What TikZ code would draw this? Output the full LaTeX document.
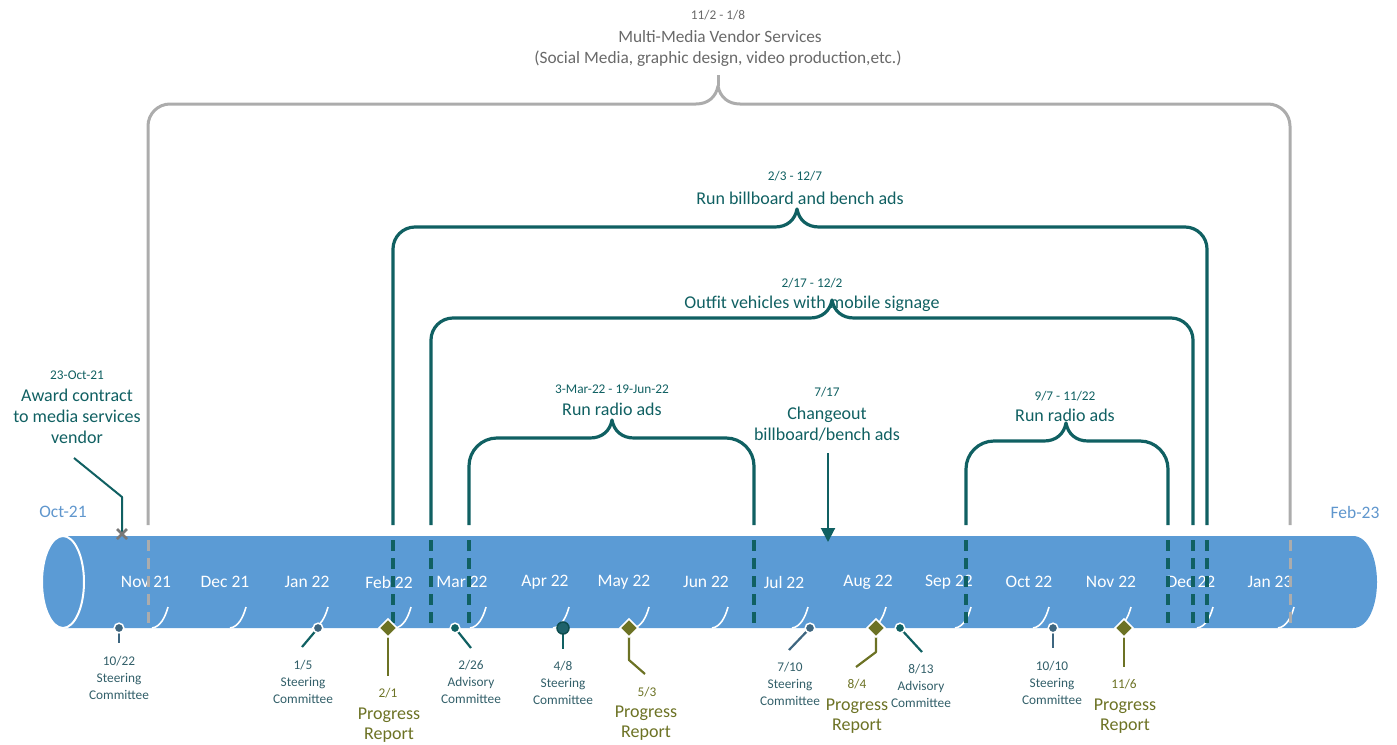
\documentclass[tikz,border=0pt]{standalone}
\usepackage{fontspec}
\setmainfont{Carlito}
\usetikzlibrary{arrows.meta,calc}
\definecolor{cyl}{RGB}{91,155,213}
\definecolor{tealc}{RGB}{16,96,98}
\definecolor{grayb}{RGB}{172,172,172}
\definecolor{grayt}{RGB}{105,105,105}
\definecolor{olivec}{RGB}{108,114,36}
\definecolor{stc}{RGB}{62,102,128}
\definecolor{evt}{RGB}{50,95,105}
\definecolor{endlab}{RGB}{95,150,205}
\newcommand\mybrace[6]{%
 \draw[#6] (#1,525) -- (#1,{#3+#5}) .. controls (#1,{#3+0.45*#5}) and ({#1+0.45*#5},#3) .. ({#1+#5},#3)
  -- ({#4-22},#3) .. controls ({#4-10},#3) and ({#4-2},{#3-7}) .. (#4,{#3-18})
  .. controls ({#4+2},{#3-7}) and ({#4+10},#3) .. ({#4+22},#3)
  -- ({#2-#5},#3) .. controls ({#2-0.45*#5},#3) and (#2,{#3+0.45*#5}) .. (#2,{#3+#5}) -- (#2,525);}
\begin{document}
\begin{tikzpicture}[x=1pt,y=-1pt,
  lab/.style={inner sep=0pt, align=center},
  date/.style={lab, font=\fontsize{13.3}{15}\selectfont},
  title/.style={lab, font=\fontsize{18}{21}\selectfont},
  month/.style={lab, text=white, font=\fontsize{17.5}{21}\selectfont},
  evlab/.style={lab, text=evt, font=\fontsize{13.3}{17}\selectfont},
  prog/.style={lab, text=olivec, font=\fontsize{18}{20.5}\selectfont},
  tealbr/.style={tealc, line width=3.2pt, line join=round},
  graybr/.style={grayb, line width=3pt, line join=round},
  tdash/.style={tealc, line width=3.5pt, dash pattern=on 11pt off 7pt},
  gdash/.style={grayb, line width=3pt, dash pattern=on 11pt off 7pt},
  stline/.style={stc, line width=2.2pt},
  adline/.style={tealc, line width=2.2pt},
  prline/.style={olivec, line width=2.2pt, line join=round}]
\useasboundingbox (0,0) rectangle (1397,744);
% ---------- brackets ----------
\mybrace{148}{1290}{104}{718}{22}{graybr}
\draw[graybr] (718,86) -- (718,75);
\mybrace{393}{1207}{227}{797}{22}{tealbr}
\mybrace{431}{1193}{318}{832}{22}{tealbr}
\mybrace{469}{754}{438}{612}{28}{tealbr}
\mybrace{966}{1168}{441}{1066}{28}{tealbr}
% bracket texts
\node[date, text=grayt] (mmd) at (718,15) {11/2 - 1/8};
\node[lab, text=grayt, font=\fontsize{17.3}{21}\selectfont] (mmt) at (720,37) {Multi-Media Vendor Services};
\node[lab, text=grayt, font=\fontsize{17.3}{21}\selectfont] (mms) at (718,59) {(Social Media, graphic design, video production,etc.)};
\node[date, text=tealc] (bbd) at (795,176) {2/3 - 12/7};
\node[title, text=tealc] (bbt) at (800,198) {Run billboard and bench ads};
\node[date, text=tealc] (ofd) at (812,283) {2/17 - 12/2};
\node[title, text=tealc] (oft) at (812,304) {Outfit vehicles with mobile signage};
\node[date, text=tealc] (r1d) at (612,389) {3-Mar-22 - 19-Jun-22};
\node[title, text=tealc] (r1t) at (612,409) {Run radio ads};
\node[date, text=tealc] (r2d) at (1065,396) {9/7 - 11/22};
\node[title, text=tealc] (r2t) at (1065,415) {Run radio ads};
% changeout
\node[date, text=tealc] (chd) at (827,392) {7/17};
\node[title, text=tealc] (cht) at (827,424) {Changeout\\billboard/bench ads};
\coordinate (chs) at (828,453);
\coordinate (che) at (828,542);
% award
\node[date, text=tealc] (awd) at (77,375) {23-Oct-21};
\node[title, text=tealc] (awt) at (77,416) {Award contract\\to media services\\vendor};
\coordinate (aw1) at (74,458);
\coordinate (aw2) at (122,497);
\coordinate (aw3) at (122,534);
% end labels
\node[month, text=endlab] (oct) at (63,512) {Oct-21};
\node[month, text=endlab] (feb) at (1355,512) {Feb-23};
% ---------- cylinder ----------
\fill[cyl] (63,536) -- (1353,536) .. controls (1369,536) and (1377,560) .. (1377,582)
  .. controls (1377,604) and (1369,628) .. (1353,628) -- (63,628) -- cycle;
\draw[white, line width=2pt, fill=cyl] (63,582) ellipse [x radius=21, y radius=46];
\foreach \x in {152,230,312,395,470,553,633,712,792,870,955,1033,1115,1197,1278}
  \draw[white, line width=1.6pt] (\x,628) .. controls ({\x+8},627) and ({\x+13},618) .. ({\x+16},607);
\foreach \x/\t in {146/Nov 21,225/Dec 21,307/Jan 22,389/Feb 22,462/Mar 22,545/Apr 22,624/May 22,706/Jun 22,784/Jul 22,868/Aug 22,949/Sep 22,1029/Oct 22,1111/Nov 22,1191/Dec 22,1270/Jan 23}
  \node[month, name=m\x] at (\x,582) {\t};
% dashed parts
\foreach \x in {393,431,469,754,966,1168,1193,1207}
  \draw[tdash] (\x,540) -- (\x,630);
\foreach \x in {148,1290}
  \draw[gdash] (\x,540) -- (\x,630);
% changeout arrow
\draw[tealc, line width=2pt, -{Triangle[length=14pt,width=14pt]}] (chs) -- (che);
% award connector
\draw[tealc, line width=2pt, line join=round] (aw1) -- (aw2) -- (aw3);
\draw[grayt!90, line width=2.6pt] ($(aw3)+(-5,-5)$) -- ($(aw3)+(5,5)$) ($(aw3)+(-5,5)$) -- ($(aw3)+(5,-5)$);
% ---------- events ----------
% 10/22 steering
\draw[stline] (119,628) -- (119,643);
\fill[stc, draw=white, line width=1.5pt] (119,628) circle (4.8);
\node[evlab] (e1) at (119,678) {10/22\\Steering\\Committee};
% 1/5 steering
\draw[stline, tealc] (318,628) -- (302,647);
\fill[stc, draw=white, line width=1.5pt] (318,628) circle (4.8);
\node[evlab] (e2) at (303,682) {1/5\\Steering\\Committee};
% 2/1 progress
\draw[prline] (388,628) -- (388,676);
\fill[olivec, draw=white, line width=1.5pt] (388,619) -- (397,628) -- (388,637) -- (379,628) -- cycle;
\node[date, text=olivec] (e3d) at (388,693) {2/1};
\node[prog] (e3) at (389,725) {Progress\\Report};
% 2/26 advisory
\draw[adline] (455,628) -- (471,648);
\fill[tealc, draw=white, line width=1.5pt] (455,628) circle (4.8);
\node[evlab] (e4) at (471,682) {2/26\\Advisory\\Committee};
% 4/8 steering
\draw[stline, tealc] (563,628) -- (563,649);
\fill[tealc!70!stc, draw=tealc!80!black, line width=1.5pt] (563,628) circle (6);
\node[evlab] (e5) at (563,683) {4/8\\Steering\\Committee};
% 5/3 progress
\draw[prline] (629,628) -- (629,660) -- (645,674);
\fill[olivec, draw=white, line width=1.5pt] (629,619) -- (638,628) -- (629,637) -- (620,628) -- cycle;
\node[date, text=olivec] (e6d) at (647,692) {5/3};
\node[prog] (e6) at (646,723) {Progress\\Report};
% 7/10 steering
\draw[stline] (810,628) -- (789,650);
\fill[stc, draw=white, line width=1.5pt] (810,628) circle (4.8);
\node[evlab] (e7) at (790,684) {7/10\\Steering\\Committee};
% 8/4 progress
\draw[prline] (876,628) -- (876,652) -- (856,667);
\fill[olivec, draw=white, line width=1.5pt] (876,619) -- (885,628) -- (876,637) -- (867,628) -- cycle;
\node[date, text=olivec] (e8d) at (857,684) {8/4};
\node[prog] (e8) at (857,716) {Progress\\Report};
% 8/13 advisory
\draw[adline] (900,628) -- (922,652);
\fill[tealc, draw=white, line width=1.5pt] (900,628) circle (4.8);
\node[evlab] (e9) at (921,686) {8/13\\Advisory\\Committee};
% 10/10 steering
\draw[stline] (1053,628) -- (1053,648);
\fill[stc, draw=white, line width=1.5pt] (1053,628) circle (4.8);
\node[evlab] (e10) at (1052,683) {10/10\\Steering\\Committee};
% 11/6 progress
\draw[prline] (1124,628) -- (1124,667);
\fill[olivec, draw=white, line width=1.5pt] (1124,619) -- (1133,628) -- (1124,637) -- (1115,628) -- cycle;
\node[date, text=olivec] (e11d) at (1124,684) {11/6};
\node[prog] (e11) at (1125,716) {Progress\\Report};
\end{tikzpicture}
\end{document}
